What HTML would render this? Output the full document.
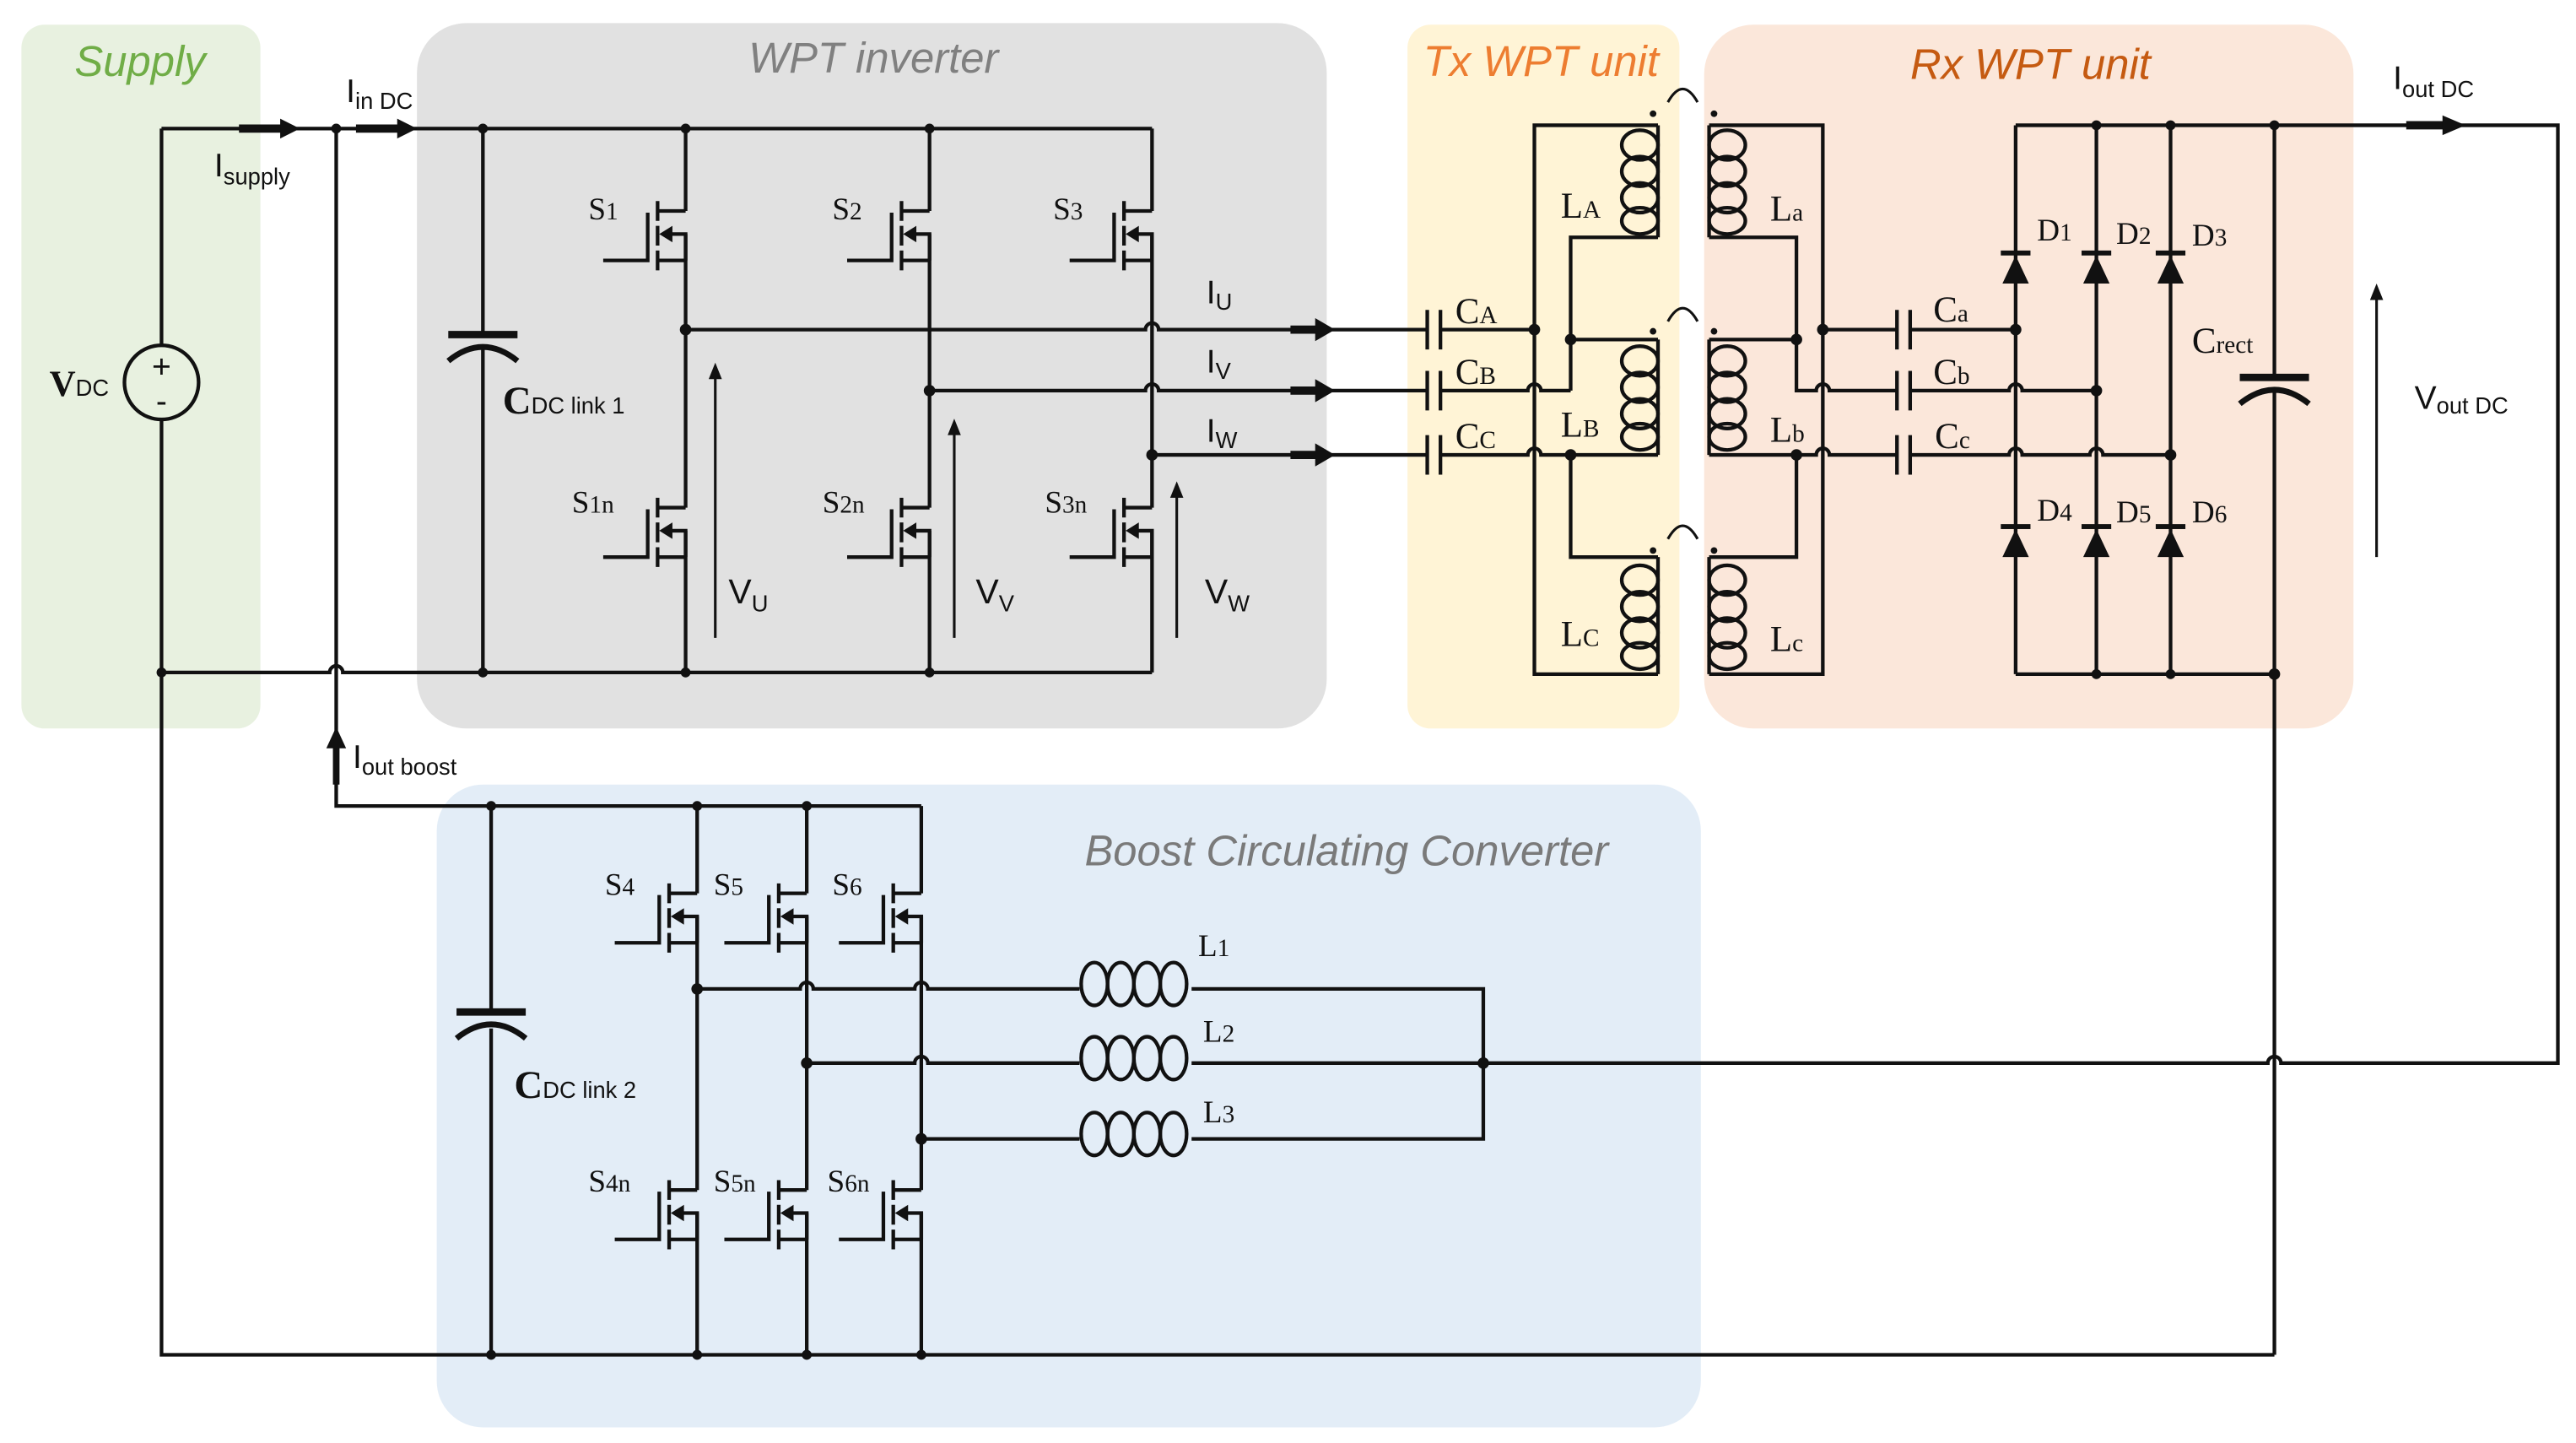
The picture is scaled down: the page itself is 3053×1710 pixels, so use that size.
<!DOCTYPE html>
<html><head><meta charset="utf-8"><style>
html,body{margin:0;padding:0;background:#fff;}
svg{display:block;}
.w{fill:none;stroke:#111;stroke-width:2.2;stroke-linejoin:miter;}
.t{fill:none;stroke:#111;stroke-width:1.6;}
.sf{font-family:"Liberation Serif",serif;fill:#111;}
.ss{font-family:"Liberation Sans",sans-serif;fill:#111;}
</style></head><body>
<svg width="3053" height="1710" viewBox="0 0 1563 875.5" preserveAspectRatio="none" xmlns="http://www.w3.org/2000/svg">
<defs>
<g id="m">
<path class="w" d="M0,-15 H-17 M0,15 H-17 M-17,-21 V-9 M-17,-6 V6 M-17,9 V21 M-23,-14 V15 H-50 M0,15 V-1 H-10"/>
<polygon points="-16,-1 -8,-6 -8,4" fill="#111"/>
</g>
<g id="ct" class="w">
<ellipse cx="-11" cy="12" rx="11" ry="9"/><ellipse cx="-11" cy="28" rx="11" ry="9"/><ellipse cx="-11" cy="44" rx="11" ry="9"/><ellipse cx="-11" cy="58" rx="11" ry="8"/>
</g>
</defs>
<!-- backgrounds -->
<rect x="13" y="15" width="145" height="427" rx="14" fill="#e8f1e0"/>
<rect x="253" y="14" width="552" height="428" rx="30" fill="#e1e1e1"/>
<rect x="854" y="15" width="165" height="427" rx="14" fill="#fff4d6"/>
<rect x="1034" y="15" width="394" height="427" rx="30" fill="#fbe7da"/>
<rect x="265" y="476" width="767" height="390" rx="28" fill="#e3edf7"/>

<!-- titles -->
<g font-family="Liberation Sans, sans-serif" font-style="italic" font-size="26" text-anchor="middle">
<text x="85" y="46" fill="#70ad47">Supply</text>
<text x="530" y="44" fill="#808080">WPT inverter</text>
<text x="935" y="46" fill="#ed7d31">Tx WPT unit</text>
<text x="1232" y="48" fill="#c55a11">Rx WPT unit</text>
<text x="817" y="525" fill="#7a7a7a">Boost Circulating Converter</text>
</g>

<!-- inverter wiring -->
<path class="w" d="M98,78 H699 M98,78 V210 M98,255 V822 H1380 M98,408 H200 a4,4 0 0 1 8,0 H699"/>
<path class="w" d="M204,78 V489 H559"/>
<circle cx="98" cy="232" r="22.5" class="w" fill="none"/>
<text x="98" y="229" class="ss" font-size="20" text-anchor="middle">+</text>
<text x="98" y="250" class="ss" font-size="20" text-anchor="middle">-</text>
<!-- Cdc1 -->
<path class="w" d="M293,78 V203 M293,212 V408"/>
<path d="M272,203 H314" stroke="#111" stroke-width="4.5"/>
<path d="M272,219 Q293,202 314,219" stroke="#111" stroke-width="3.5" fill="none"/>
<!-- legs -->
<path class="w" d="M416,78 V128 M416,142 V308 M416,322 V408 M564,78 V128 M564,142 V308 M564,322 V408 M699,78 V128 M699,142 V308 M699,322 V408"/>
<use href="#m" x="416" y="143"/><use href="#m" x="564" y="143"/><use href="#m" x="699" y="143"/>
<use href="#m" x="416" y="323"/><use href="#m" x="564" y="323"/><use href="#m" x="699" y="323"/>
<!-- phase lines -->
<path class="w" d="M416,200 H695 a4,4 0 0 1 8,0 H866 M564,237 H695 a4,4 0 0 1 8,0 H866 M699,276 H866"/>
<path d="M783,200 H800 M783,237 H800 M783,276 H800" stroke="#111" stroke-width="5"/>
<polygon points="798,193 810,200 798,207" fill="#111"/>
<polygon points="798,230 810,237 798,244" fill="#111"/>
<polygon points="798,269 810,276 798,283" fill="#111"/>
<!-- current arrows top -->
<path d="M145,78 H172 M216,78 H243" stroke="#111" stroke-width="5"/>
<polygon points="170,72 182,78 170,84" fill="#111"/>
<polygon points="241,72 253,78 241,84" fill="#111"/>
<path d="M204,476 V452" stroke="#111" stroke-width="4"/>
<polygon points="198,454 204,441 210,454" fill="#111"/>
<!-- voltage arrows -->
<path class="t" d="M434,387 V228 M579,387 V262 M714,387 V300 M1442,338 V180"/>
<polygon points="430,230 434,220 438,230" fill="#111"/>
<polygon points="575,264 579,254 583,264" fill="#111"/>
<polygon points="710,302 714,292 718,302" fill="#111"/>
<polygon points="1438,182 1442,172 1446,182" fill="#111"/>
<!-- dots -->
<g fill="#111">
<circle cx="98" cy="408" r="3"/><circle cx="204" cy="78" r="3"/><circle cx="293" cy="78" r="3"/><circle cx="293" cy="408" r="3"/>
<circle cx="416" cy="78" r="3"/><circle cx="564" cy="78" r="3"/><circle cx="416" cy="408" r="3"/><circle cx="564" cy="408" r="3"/>
<circle cx="416" cy="200" r="3.5"/><circle cx="564" cy="237" r="3.5"/><circle cx="699" cy="276" r="3.5"/>
</g>

<!-- Tx caps -->
<path class="w" d="M866,188 V212 M874,188 V212 M866,225 V249 M874,225 V249 M866,264 V288 M874,264 V288"/>
<path class="w" d="M874,200 H931 M874,237 H927 a4,4 0 0 1 8,0 H953 M874,276 H927 a4,4 0 0 1 8,0 H953"/>
<!-- Tx network -->
<path class="w" d="M1006,76 H931 V409 H1006 M1006,144 H953 V237 M953,206 H1006 M1006,276 H953 V338 H1006"/>
<path class="w" d="M1006,76 V144 M1006,206 V276 M1006,338 V409"/>
<use href="#ct" x="1006" y="76"/><use href="#ct" x="1006" y="207"/><use href="#ct" x="1006" y="340"/>
<!-- Rx network -->
<path class="w" d="M1037,76 H1106 V409 H1037 M1037,144 H1090 V237 H1102 a4,4 0 0 1 8,0 H1151 M1037,206 H1090 M1037,276 H1102 a4,4 0 0 1 8,0 H1151 M1090,276 V338 H1037 M1106,200 H1151"/>
<path class="w" d="M1037,76 V144 M1037,206 V276 M1037,338 V409"/>
<use href="#ct" x="1059" y="76"/><use href="#ct" x="1059" y="207"/><use href="#ct" x="1059" y="340"/>
<!-- coupling marks -->
<g fill="#111"><circle cx="1003" cy="69" r="2"/><circle cx="1040" cy="69" r="2"/><circle cx="1003" cy="201" r="2"/><circle cx="1040" cy="201" r="2"/><circle cx="1003" cy="334" r="2"/><circle cx="1040" cy="334" r="2"/>
<circle cx="931" cy="200" r="3.5"/><circle cx="953" cy="206" r="3.5"/><circle cx="953" cy="276" r="3.5"/><circle cx="1090" cy="206" r="3.5"/><circle cx="1090" cy="276" r="3.5"/><circle cx="1106" cy="200" r="3.5"/></g>
<path class="t" d="M1012,62 Q1021,46 1030,62 M1012,195 Q1021,179 1030,195 M1012,327 Q1021,311 1030,327"/>
<!-- Rx caps -->
<path class="w" d="M1151,188 V212 M1159,188 V212 M1151,225 V249 M1159,225 V249 M1151,264 V288 M1159,264 V288"/>
<path class="w" d="M1159,200 H1223 M1159,237 H1219 a4,4 0 0 1 8,0 H1272 M1159,276 H1219 a4,4 0 0 1 8,0 H1268 a4,4 0 0 1 8,0 H1317"/>
<!-- rectifier -->
<path class="w" d="M1223,76 V409 M1272,76 V409 M1317,76 V409 M1223,76 H1552 V645 H1384 a4,4 0 0 0 -8,0 H900 M1223,409 H1380 M1380,76 V229 M1380,238 V822"/>
<path d="M1359,229 H1401" stroke="#111" stroke-width="4.5"/>
<path d="M1359,245 Q1380,228 1401,245" stroke="#111" stroke-width="3.5" fill="none"/>
<g fill="#111">
<polygon points="1215,172 1231,172 1223,155"/><rect x="1214" y="152" width="18" height="3"/>
<polygon points="1264,172 1280,172 1272,155"/><rect x="1263" y="152" width="18" height="3"/>
<polygon points="1309,172 1325,172 1317,155"/><rect x="1308" y="152" width="18" height="3"/>
<polygon points="1215,338 1231,338 1223,321"/><rect x="1214" y="318" width="18" height="3"/>
<polygon points="1264,338 1280,338 1272,321"/><rect x="1263" y="318" width="18" height="3"/>
<polygon points="1309,338 1325,338 1317,321"/><rect x="1308" y="318" width="18" height="3"/>
<circle cx="1223" cy="200" r="3.5"/><circle cx="1272" cy="237" r="3.5"/><circle cx="1317" cy="276" r="3.5"/>
<circle cx="1272" cy="76" r="3"/><circle cx="1317" cy="76" r="3"/><circle cx="1380" cy="76" r="3"/>
<circle cx="1272" cy="409" r="3"/><circle cx="1317" cy="409" r="3"/><circle cx="1380" cy="409" r="3.5"/>
</g>
<path d="M1460,76 H1484" stroke="#111" stroke-width="5"/>
<polygon points="1482,70 1496,76 1482,82" fill="#111"/>

<!-- boost -->
<path class="w" d="M298,489 V614 M298,624 V822"/>
<path d="M277,614 H319" stroke="#111" stroke-width="4.5"/>
<path d="M277,630 Q298,613 319,630" stroke="#111" stroke-width="3.5" fill="none"/>
<path class="w" d="M423,489 V542 M423,556 V722 M423,736 V822 M489.5,489 V542 M489.5,556 V722 M489.5,736 V822 M559,489 V542 M559,556 V722 M559,736 V822"/>
<use href="#m" x="423" y="557"/><use href="#m" x="489.5" y="557"/><use href="#m" x="559" y="557"/>
<use href="#m" x="423" y="737"/><use href="#m" x="489.5" y="737"/><use href="#m" x="559" y="737"/>
<path class="w" d="M423,600 H485.5 a4,4 0 0 1 8,0 H555 a4,4 0 0 1 8,0 H655 M723,600 H900 V691 H723 M489.5,645 H555 a4,4 0 0 1 8,0 H655 M723,645 H900 M559,691 H655"/>
<g class="w">
<ellipse cx="664" cy="597" rx="8" ry="13"/><ellipse cx="680" cy="597" rx="8" ry="13"/><ellipse cx="696" cy="597" rx="8" ry="13"/><ellipse cx="712" cy="597" rx="8" ry="13"/>
<ellipse cx="664" cy="642" rx="8" ry="13"/><ellipse cx="680" cy="642" rx="8" ry="13"/><ellipse cx="696" cy="642" rx="8" ry="13"/><ellipse cx="712" cy="642" rx="8" ry="13"/>
<ellipse cx="664" cy="688" rx="8" ry="13"/><ellipse cx="680" cy="688" rx="8" ry="13"/><ellipse cx="696" cy="688" rx="8" ry="13"/><ellipse cx="712" cy="688" rx="8" ry="13"/>
</g>
<g fill="#111">
<circle cx="298" cy="489" r="3"/><circle cx="423" cy="489" r="3"/><circle cx="489.5" cy="489" r="3"/>
<circle cx="298" cy="822" r="3"/><circle cx="423" cy="822" r="3"/><circle cx="489.5" cy="822" r="3"/><circle cx="559" cy="822" r="3"/>
<circle cx="423" cy="600" r="3.5"/><circle cx="489.5" cy="645" r="3.5"/><circle cx="559" cy="691" r="3.5"/><circle cx="900" cy="645" r="3.5"/>
</g>

<!-- sans labels -->
<g class="ss">
<text x="210" y="62" font-size="20">I<tspan font-size="14" dy="4">in DC</tspan></text>
<text x="130" y="107" font-size="20">I<tspan font-size="14" dy="5">supply</tspan></text>
<text x="214" y="466" font-size="20">I<tspan font-size="14" dy="4">out boost</tspan></text>
<text x="1452" y="54" font-size="20">I<tspan font-size="14" dy="5">out DC</tspan></text>
<text x="1465" y="248" font-size="20">V<tspan font-size="14" dy="3">out DC</tspan></text>
<text x="732" y="184" font-size="20">I<tspan font-size="14" dy="4">U</tspan></text>
<text x="732" y="226" font-size="20">I<tspan font-size="14" dy="4">V</tspan></text>
<text x="732" y="268" font-size="20">I<tspan font-size="14" dy="4">W</tspan></text>
<text x="442" y="366" font-size="21">V<tspan font-size="14" dy="5">U</tspan></text>
<text x="592" y="366" font-size="21">V<tspan font-size="14" dy="5">V</tspan></text>
<text x="731" y="366" font-size="21">V<tspan font-size="14" dy="5">W</tspan></text>
</g>
<!-- serif labels -->
<g class="sf" font-weight="bold">
<text x="30" y="240" font-size="22">V<tspan class="ss" font-size="14" font-weight="normal">DC</tspan></text>
<text x="305" y="251" font-size="24">C<tspan class="ss" font-size="14" font-weight="normal">DC link 1</tspan></text>
<text x="312" y="666" font-size="24">C<tspan class="ss" font-size="14" font-weight="normal">DC link 2</tspan></text>
<g font-size="19" font-weight="normal">
<text x="357" y="133">S<tspan font-size="15">1</tspan></text>
<text x="505" y="133">S<tspan font-size="15">2</tspan></text>
<text x="639" y="133">S<tspan font-size="15">3</tspan></text>
<text x="347" y="311">S<tspan font-size="15">1n</tspan></text>
<text x="499" y="311">S<tspan font-size="15">2n</tspan></text>
<text x="634" y="311">S<tspan font-size="15">3n</tspan></text>
<text x="367" y="543">S<tspan font-size="15">4</tspan></text>
<text x="433" y="543">S<tspan font-size="15">5</tspan></text>
<text x="505" y="543">S<tspan font-size="15">6</tspan></text>
<text x="357" y="723">S<tspan font-size="15">4n</tspan></text>
<text x="433" y="723">S<tspan font-size="15">5n</tspan></text>
<text x="502" y="723">S<tspan font-size="15">6n</tspan></text>
<text x="1236" y="146">D<tspan font-size="15">1</tspan></text>
<text x="1284" y="148">D<tspan font-size="15">2</tspan></text>
<text x="1330" y="149">D<tspan font-size="15">3</tspan></text>
<text x="1236" y="316">D<tspan font-size="15">4</tspan></text>
<text x="1284" y="317">D<tspan font-size="15">5</tspan></text>
<text x="1330" y="317">D<tspan font-size="15">6</tspan></text>
<text x="727" y="580">L<tspan font-size="15">1</tspan></text>
<text x="730" y="632">L<tspan font-size="15">2</tspan></text>
<text x="730" y="681">L<tspan font-size="15">3</tspan></text>
</g>
<g font-size="22" font-weight="normal">
<text x="947" y="132">L<tspan font-size="15">A</tspan></text>
<text x="1074" y="134">L<tspan font-size="15">a</tspan></text>
<text x="947" y="265">L<tspan font-size="15">B</tspan></text>
<text x="1074" y="268">L<tspan font-size="15">b</tspan></text>
<text x="947" y="392">L<tspan font-size="15">C</tspan></text>
<text x="1074" y="395">L<tspan font-size="15">c</tspan></text>
<text x="883" y="196">C<tspan font-size="15">A</tspan></text>
<text x="883" y="233">C<tspan font-size="15">B</tspan></text>
<text x="883" y="272">C<tspan font-size="15">C</tspan></text>
<text x="1173" y="195">C<tspan font-size="15">a</tspan></text>
<text x="1173" y="233">C<tspan font-size="15">b</tspan></text>
<text x="1174" y="272">C<tspan font-size="15">c</tspan></text>
<text x="1330" y="214">C<tspan font-size="15">rect</tspan></text>
</g>
</g>
</svg>
</body></html>
